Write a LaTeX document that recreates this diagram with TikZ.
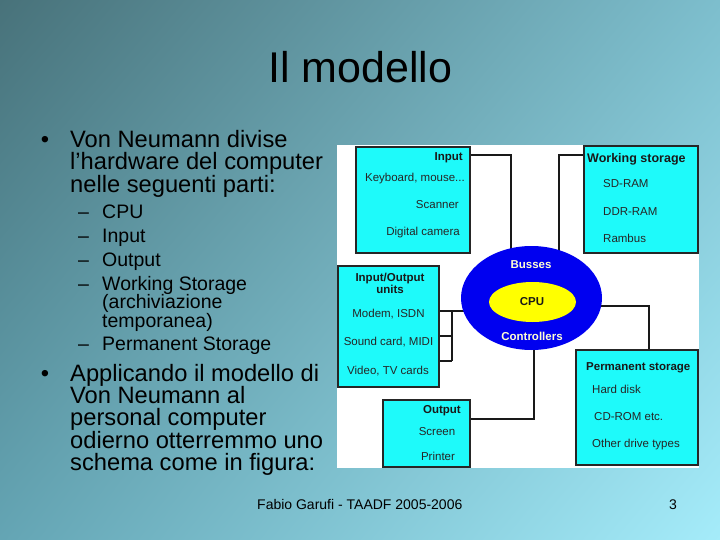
\documentclass[tikz,border=0pt]{standalone}
\usepackage{fontspec}
\setmainfont{Liberation Sans}
\usetikzlibrary{shapes.geometric,shadings}
\pgfdeclarelayer{back}
\pgfdeclarelayer{lines}
\pgfsetlayers{back,lines,main}
\definecolor{bgTL}{RGB}{72,114,122}
\definecolor{bgTR}{RGB}{125,190,205}
\definecolor{bgBL}{RGB}{100,165,180}
\definecolor{bgBR}{RGB}{165,236,250}
\definecolor{boxcyan}{RGB}{30,250,250}
\definecolor{busblue}{RGB}{0,0,240}
\definecolor{cpuyellow}{RGB}{255,255,0}
\definecolor{paleyellow}{RGB}{255,255,210}
\begin{document}
\begin{tikzpicture}[x=1pt,y=-1pt,
  box/.style={draw=black!85,line width=1.4pt,fill=boxcyan,rectangle,inner sep=0pt},
  conn/.style={draw=black!90,line width=1.4pt},
  btxt/.style={font=\fontsize{11.5}{13}\selectfont,inner sep=0pt,text=black!85},
  bbold/.style={font=\fontsize{11.5}{13}\selectfont\bfseries,inner sep=0pt,text=black!90},
  big/.style={font=\fontsize{23.7}{26}\selectfont,inner sep=0pt,anchor=base west},
  sub/.style={font=\fontsize{19.5}{22}\selectfont,inner sep=0pt,anchor=base west},
  ]
\useasboundingbox (0,0) rectangle (720,540);
\begin{pgfonlayer}{back}
\shade[upper left=bgTL,upper right=bgTR,lower left=bgBL,lower right=bgBR] (0,0) rectangle (720,540);
\fill[white] (337,145) rectangle (699,468);
\end{pgfonlayer}

% title
\node[font=\fontsize{43}{48}\selectfont,inner sep=0pt,anchor=base] (title) at (360.5,82.7) {Il modello};

% left text
\node[big,anchor=base] (b1) at (45,147.7) {•};
\node[big] (t1) at (70,147.7) {Von Neumann divise};
\node[big] (t2) at (70,170) {l’hardware del computer};
\node[big] (t3) at (70,192.3) {nelle seguenti parti:};
\node[sub,anchor=base] (d1) at (83.5,218.3) {–};
\node[sub] (s1) at (102,218.3) {CPU};
\node[sub,anchor=base] (d2) at (83.5,242.5) {–};
\node[sub] (s2) at (102,242.5) {Input};
\node[sub,anchor=base] (d3) at (83.5,266.7) {–};
\node[sub] (s3) at (102,266.7) {Output};
\node[sub,anchor=base] (d4) at (83.5,290) {–};
\node[sub] (s4) at (102,290) {Working Storage};
\node[sub] (s4b) at (102,308.3) {(archiviazione};
\node[sub] (s4c) at (102,327.3) {temporanea)};
\node[sub,anchor=base] (d5) at (83.5,350) {–};
\node[sub] (s5) at (102,350) {Permanent Storage};
\node[big,anchor=base] (b2) at (45,381) {•};
\node[big] (u1) at (70,381) {Applicando il modello di};
\node[big] (u2) at (70,403.3) {Von Neumann al};
\node[big] (u3) at (70,425.7) {personal computer};
\node[big] (u4) at (70,448.3) {odierno otterremmo uno};
\node[big] (u5) at (70,470) {schema come in figura:};

% footer
\node[font=\fontsize{14}{16}\selectfont,inner sep=0pt,anchor=base west] (foot) at (257,509) {Fabio Garufi - TAADF 2005-2006};
\node[font=\fontsize{14}{16}\selectfont,inner sep=0pt,anchor=base] (page) at (673,509) {3};

% boxes
\node[box,minimum width=114pt,minimum height=106pt] (inbox) at (413,200) {};
\node[box,minimum width=114pt,minimum height=107pt] (wsbox) at (641,199.5) {};
\node[box,minimum width=101pt,minimum height=121pt] (iobox) at (388.5,326.5) {};
\node[box,minimum width=87pt,minimum height=67pt] (outbox) at (426.5,433.5) {};
\node[box,minimum width=122pt,minimum height=115pt] (pmbox) at (637,407.5) {};

% ellipses
\node[ellipse,fill=busblue,minimum width=141pt,minimum height=104pt,inner sep=0pt] (bus) at (531.5,298) {};
\node[ellipse,fill=cpuyellow,minimum width=87pt,minimum height=40pt,inner sep=0pt] (cpu) at (532.5,302) {};
\node[bbold,text=paleyellow,anchor=base] (busses) at (531,268) {Busses};
\node[bbold,anchor=base] (cputxt) at (532,305) {CPU};
\node[bbold,text=paleyellow,anchor=base] (ctrl) at (532,340) {Controllers};

% connectors
\coordinate (cin) at (511,155);
\coordinate (cws) at (559,155);
\coordinate (cout) at (534,419);
\coordinate (cpm) at (649,306);
\coordinate (cio) at (452,311);
\coordinate (cio2) at (452,336);
\coordinate (cio3) at (452,361);
\begin{pgfonlayer}{lines}
\draw[conn] (inbox.east |- cin) -- (cin) -- (cin |- bus.center);
\draw[conn] (wsbox.west |- cws) -- (cws) -- (cws |- bus.center);
\draw[conn] (outbox.east |- cout) -- (cout) -- (cout |- bus.center);
\draw[conn] (bus.center |- cpm) -- (cpm) -- (cpm |- pmbox.north);
\draw[conn] (iobox.east |- cio) -- (bus.center |- cio);
\draw[conn] (iobox.east |- cio2) -- (cio2);
\draw[conn] (iobox.east |- cio3) -- (cio3);
\draw[conn] (cio) -- (cio3);
\end{pgfonlayer}

% box texts
\node[bbold,anchor=base east] (inT) at (463,161) {Input};
\node[btxt,anchor=base east] (in1) at (465,182) {Keyboard, mouse...};
\node[btxt,anchor=base east] (in2) at (459,209) {Scanner};
\node[btxt,anchor=base east] (in3) at (460,236) {Digital camera};

\node[font=\fontsize{12.5}{14}\selectfont\bfseries,inner sep=0pt,text=black!90,anchor=base west] (wsT) at (587,162.5) {Working storage};
\node[btxt,anchor=base west] (ws1) at (603,188) {SD-RAM};
\node[btxt,anchor=base west] (ws2) at (603,215) {DDR-RAM};
\node[btxt,anchor=base west] (ws3) at (603,242) {Rambus};

\node[bbold,anchor=base] (ioT) at (390,281) {Input/Output};
\node[bbold,anchor=base] (ioT2) at (390,293) {units};
\node[btxt,anchor=base] (io1) at (388.5,317) {Modem, ISDN};
\node[btxt,anchor=base] (io2) at (388.5,345) {Sound card, MIDI};
\node[btxt,anchor=base] (io3) at (388,374) {Video, TV cards};

\node[bbold,anchor=base east] (outT) at (461,413) {Output};
\node[btxt,anchor=base] (out1) at (437,435) {Screen};
\node[btxt,anchor=base] (out2) at (438,460) {Printer};

\node[bbold,anchor=base west] (pmT) at (586,370) {Permanent storage};
\node[btxt,anchor=base west] (pm1) at (592,393) {Hard disk};
\node[btxt,anchor=base west] (pm2) at (594,420) {CD-ROM etc.};
\node[btxt,anchor=base west] (pm3) at (592,447) {Other drive types};
\end{tikzpicture}
\end{document}
